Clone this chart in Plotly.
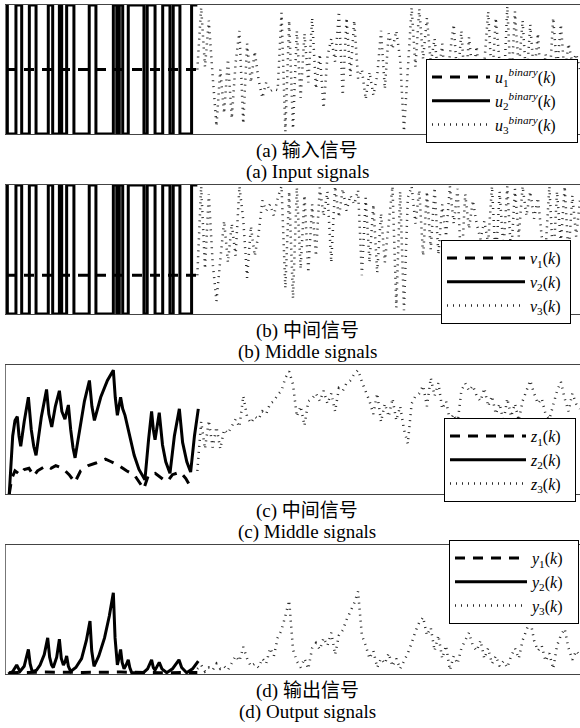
import plotly.graph_objects as go

# ---------------- data ----------------
# sample index of the third (chaotic) signal in every panel
K3 = list(range(100, 301, 2))

# (a) input signals
u1_k = [0, 100]
u1 = [0.5, 0.5]
u2_switch = [0.7, 5.2, 8.2, 12.2, 15.7, 22.1, 24.4, 27.9, 29.1, 31.7, 35.5, 43.5, 47.0,
             56.1, 57.9, 59.2, 61.0, 63.9, 72.1, 73.8, 77.9, 81.9, 85.7, 87.4, 90.9, 97.0]
u2_levels = [1, 0, 1, 0, 1, 0, 1, 0, 1, 0, 1, 0, 1, 0, 1, 0, 1, 0, 1, 0, 1, 0, 1, 0, 1, 0, 1, 1]
u3 = [0.50, 0.98, 0.52, 0.88, 0.45, 0.06, 0.50, 0.16, 0.58, 0.12,
      0.55, 0.80, 0.08, 0.70, 0.40, 0.64, 0.42, 0.28, 0.40, 0.33,
      0.35, 0.34, 0.94, 0.02, 0.88, 0.04, 0.80, 0.28, 0.78, 0.40,
      0.90, 0.35, 0.62, 0.20, 0.60, 0.74, 0.56, 0.95, 0.30, 0.90,
      0.45, 0.88, 0.43, 0.50, 0.27, 0.48, 0.30, 0.45, 0.80, 0.35,
      0.78, 0.66, 0.80, 0.58, 0.02, 0.55, 0.98, 0.52, 0.97, 0.58,
      0.90, 0.55, 0.74, 0.44, 0.70, 0.30, 0.62, 0.85, 0.40, 0.80,
      0.35, 0.75, 0.45, 0.68, 0.30, 0.55, 0.95, 0.40, 0.90, 0.55,
      0.30, 0.99, 0.35, 0.95, 0.50, 0.88, 0.40, 0.85, 0.45, 0.78,
      0.30, 0.62, 0.40, 0.90, 0.50, 0.85, 0.45, 0.70, 0.55, 0.62, 0.50]

# (b) middle signals v
v1_k = [0, 100]
v1 = [0.3, 0.3]
v2_switch = u2_switch
v2_levels = u2_levels
v3 = [0.30, 0.99, 0.35, 0.93, 0.40, 0.10, 0.42, 0.72, 0.40, 0.70,
      0.45, 0.99, 0.73, 0.28, 0.68, 0.45, 0.62, 0.88, 0.80, 0.85,
      0.76, 0.90, 0.99, 0.20, 0.95, 0.12, 0.98, 0.35, 0.92, 0.32,
      0.85, 0.45, 0.98, 0.76, 0.95, 0.40, 0.99, 0.75, 0.97, 0.80,
      0.92, 0.85, 0.96, 0.30, 0.90, 0.40, 0.85, 0.32, 0.78, 0.40,
      0.70, 0.99, 0.05, 0.95, 0.03, 0.90, 0.99, 0.70, 0.96, 0.45,
      0.95, 0.50, 0.98, 0.46, 0.85, 0.60, 0.99, 0.70, 0.97, 0.35,
      0.93, 0.66, 0.88, 0.70, 0.58, 0.72, 0.55, 0.99, 0.40, 0.95,
      0.50, 0.99, 0.45, 0.97, 0.60, 0.99, 0.76, 0.95, 0.74, 0.90,
      0.60, 0.50, 0.99, 0.40, 0.95, 0.55, 0.99, 0.45, 0.92, 0.60, 0.88]

# (c) middle signals z
z1_k = [1.7, 3.0, 4.7, 7.3, 9.5, 12.0, 14.5, 16.5, 21.0, 23.5, 26.0, 29.5, 33.0, 36.0,
        39.0, 43.0, 47.0, 52.0, 55.0, 59.0, 63.0, 67.0, 72.0, 74.5, 78.0, 82.5, 84.5,
        87.0, 91.0, 94.0, 97.0]
z1 = [0.00, 0.12, 0.18, 0.15, 0.19, 0.20, 0.14, 0.18, 0.22, 0.20, 0.22, 0.20, 0.15, 0.09,
      0.18, 0.22, 0.24, 0.27, 0.25, 0.22, 0.18, 0.15, 0.04, 0.15, 0.16, 0.11, 0.10,
      0.15, 0.17, 0.12, 0.04]
z2_k = [1.7, 2.6, 3.5, 4.7, 5.9, 6.8, 7.7, 9.5, 11.7, 13.2, 14.5, 15.7, 18.5, 21.2, 22.4,
        23.9, 25.8, 27.9, 29.2, 30.8, 32.6, 33.8, 35.0, 36.1, 38.5, 41.0, 43.6, 44.9, 46.2,
        49.5, 53.0, 56.1, 57.1, 58.2, 59.9, 61.0, 62.2, 64.5, 67.0, 69.5, 72.6, 74.5, 76.1,
        77.0, 77.9, 80.1, 81.8, 83.5, 85.7, 88.0, 90.6, 92.3, 94.5, 96.5, 98.5, 100.5]
z2 = [0.00, 0.25, 0.45, 0.57, 0.60, 0.45, 0.37, 0.56, 0.75, 0.50, 0.37, 0.30, 0.60, 0.81, 0.62,
      0.52, 0.68, 0.80, 0.64, 0.58, 0.69, 0.50, 0.36, 0.28, 0.50, 0.72, 0.88, 0.68, 0.57,
      0.75, 0.88, 0.96, 0.75, 0.61, 0.75, 0.66, 0.61, 0.45, 0.30, 0.19, 0.11, 0.42, 0.64,
      0.50, 0.42, 0.63, 0.38, 0.25, 0.16, 0.45, 0.66, 0.40, 0.25, 0.17, 0.45, 0.66]
z3 = [0.18, 0.56, 0.35, 0.57, 0.36, 0.52, 0.35, 0.50, 0.47, 0.53,
      0.58, 0.52, 0.76, 0.60, 0.55, 0.60, 0.58, 0.64, 0.62, 0.70,
      0.72, 0.77, 0.80, 0.90, 0.95, 0.85, 0.60, 0.68, 0.53, 0.72,
      0.74, 0.78, 0.72, 0.80, 0.70, 0.78, 0.64, 0.82, 0.80, 0.86,
      0.88, 0.93, 0.96, 0.87, 0.80, 0.72, 0.62, 0.78, 0.56, 0.70,
      0.60, 0.74, 0.57, 0.68, 0.50, 0.39, 0.70, 0.76, 0.78, 0.84,
      0.68, 0.90, 0.76, 0.86, 0.66, 0.72, 0.57, 0.62, 0.55, 0.80,
      0.86, 0.80, 0.84, 0.76, 0.72, 0.82, 0.68, 0.76, 0.62, 0.70,
      0.56, 0.74, 0.60, 0.70, 0.57, 0.72, 0.80, 0.88, 0.78, 0.70,
      0.74, 0.62, 0.58, 0.70, 0.80, 0.87, 0.74, 0.64, 0.78, 0.70, 0.66]

# (d) output signals
y1_k = [1.5, 20, 40, 60, 80, 100]
y1 = [0.010, 0.015, 0.012, 0.015, 0.010, 0.012]
y2_k = [1.2, 3.5, 5.6, 6.4, 7.3, 9.5, 11.7, 12.6, 13.5, 14.3, 16.0, 17.8, 20.0, 21.8, 22.8,
        23.8, 24.7, 26.5, 27.9, 28.9, 30.0, 31.0, 31.7, 32.6, 33.8, 36.5, 39.5, 42.0, 43.9,
        44.8, 46.0, 48.5, 51.5, 54.0, 56.1, 57.0, 58.2, 59.0, 59.9, 60.7, 61.7, 62.8, 63.9,
        64.7, 65.7, 71.8, 74.0, 76.1, 77.0, 77.9, 80.1, 81.5, 84.0, 87.0, 90.4, 91.8, 94.4,
        97.5, 100.5]
y2 = [0.00, 0.02, 0.07, 0.04, 0.02, 0.06, 0.19, 0.08, 0.03, 0.02, 0.03, 0.07, 0.15, 0.28, 0.13,
      0.07, 0.05, 0.13, 0.27, 0.12, 0.07, 0.10, 0.14, 0.06, 0.02, 0.05, 0.12, 0.26, 0.41,
      0.18, 0.06, 0.14, 0.28, 0.45, 0.63, 0.28, 0.07, 0.12, 0.19, 0.09, 0.04, 0.07, 0.11,
      0.05, 0.01, 0.01, 0.04, 0.11, 0.05, 0.03, 0.09, 0.04, 0.01, 0.04, 0.11, 0.05, 0.01,
      0.04, 0.10]
y3 = [0.04, 0.07, 0.02, 0.05, 0.03, 0.08, 0.04, 0.06, 0.03, 0.09,
      0.14, 0.10, 0.21, 0.12, 0.06, 0.08, 0.05, 0.12, 0.08, 0.20,
      0.14, 0.28, 0.34, 0.45, 0.57, 0.19, 0.10, 0.05, 0.12, 0.04,
      0.20, 0.24, 0.19, 0.28, 0.22, 0.32, 0.15, 0.30, 0.34, 0.42,
      0.48, 0.55, 0.64, 0.30, 0.22, 0.12, 0.18, 0.05, 0.12, 0.08,
      0.16, 0.06, 0.12, 0.04, 0.10, 0.16, 0.24, 0.33, 0.40, 0.44,
      0.30, 0.36, 0.18, 0.30, 0.12, 0.22, 0.03, 0.14, 0.08, 0.20,
      0.26, 0.32, 0.22, 0.18, 0.26, 0.12, 0.20, 0.08, 0.14, 0.06,
      0.10, 0.05, 0.14, 0.20, 0.12, 0.26, 0.34, 0.42, 0.26, 0.18,
      0.22, 0.10, 0.16, 0.04, 0.22, 0.30, 0.35, 0.20, 0.11, 0.18, 0.14]

captions = [("(a) 输入信号", "(a) Input signals"),
            ("(b) 中间信号", "(b) Middle signals"),
            ("(c) 中间信号", "(c) Middle signals"),
            ("(d) 输出信号", "(d) Output signals")]

# ---------------- styling / layout ----------------
W, H = 580, 728
SERIF = "Liberation Serif, 'Noto Sans CJK SC', serif"
DASH = dict(color="black", width=3, dash="10px,8px")
SOLID = dict(color="black", width=3)
DOT = dict(color="#2a2a2a", width=2.5, dash="1px,5px")
NB = "\u00a0"

# panel pixel boxes (top, bottom)
boxes = [(5, 134), (185, 314), (365, 494), (545, 674)]
# legend left, top, symbol width, trailing padding
legend_pos = [(426, 59, 58, 4), (441, 240, 78, 1), (444, 418, 76, 2), (449, 540, 72, 2)]


def steps(switch, levels):
    xs = [0] + list(switch) + [100]
    return xs, list(levels)


fig = go.Figure()
u2x, u2y = steps(u2_switch, u2_levels)
v2x, v2y = steps(v2_switch, v2_levels)

series = [
    [(u1_k, u1, "<i>u</i><sub>1</sub><sup><i>binary</i></sup>(<i>k</i>)", DASH, "linear"),
     (u2x, u2y, "<i>u</i><sub>2</sub><sup><i>binary</i></sup>(<i>k</i>)", SOLID, "hv"),
     (K3, u3, "<i>u</i><sub>3</sub><sup><i>binary</i></sup>(<i>k</i>)", DOT, "linear")],
    [(v1_k, v1, "<i>v</i><sub>1</sub>(<i>k</i>)", DASH, "linear"),
     (v2x, v2y, "<i>v</i><sub>2</sub>(<i>k</i>)", SOLID, "hv"),
     (K3, v3, "<i>v</i><sub>3</sub>(<i>k</i>)", DOT, "linear")],
    [(z1_k, z1, "<i>z</i><sub>1</sub>(<i>k</i>)", DASH, "linear"),
     (z2_k, z2, "<i>z</i><sub>2</sub>(<i>k</i>)", SOLID, "linear"),
     (K3, z3, "<i>z</i><sub>3</sub>(<i>k</i>)", DOT, "linear")],
    [(y1_k, y1, "<i>y</i><sub>1</sub>(<i>k</i>)", DASH, "linear"),
     (y2_k, y2, "<i>y</i><sub>2</sub>(<i>k</i>)", SOLID, "linear"),
     (K3, y3, "<i>y</i><sub>3</sub>(<i>k</i>)", DOT, "linear")],
]

layout = dict(width=W, height=H, margin=dict(l=0, r=0, t=0, b=0),
              paper_bgcolor="white", plot_bgcolor="white", showlegend=True,
              annotations=[])

for p, (top, bot) in enumerate(boxes):
    sfx = "" if p == 0 else str(p + 1)
    leg = "legend" if p == 0 else "legend" + str(p + 1)
    lx, ly, iw, pad = legend_pos[p]
    for (x, y, name, line, shape) in series[p]:
        fig.add_trace(go.Scatter(x=x, y=y, mode="lines", name=name + NB * pad,
                                 line=dict(shape=shape, **line),
                                 xaxis="x" + sfx, yaxis="y" + sfx, legend=leg, hoverinfo="skip"))
    layout["xaxis" + sfx] = dict(domain=[6 / W, 1], range=[0, 300], showline=True, mirror=True,
                                 linecolor="#444", linewidth=1, showgrid=False, zeroline=False,
                                 showticklabels=False, ticks="", anchor="y" + sfx)
    layout["yaxis" + sfx] = dict(domain=[1 - bot / H, 1 - top / H], range=[0, 1], showline=True,
                                 mirror=False, linecolor="#777", linewidth=1, showgrid=False,
                                 zeroline=False, showticklabels=False, ticks="", anchor="x" + sfx)
    layout[leg] = dict(x=lx / W, y=1 - ly / H, xanchor="left", yanchor="top", bgcolor="white",
                       bordercolor="black", borderwidth=1, itemwidth=iw, tracegroupgap=0,
                       font=dict(family=SERIF, size=16, color="black"))
    c1, c2 = captions[p]
    for txt, dy in ((c1, 17), (c2, 38)):
        layout["annotations"].append(dict(text=txt, x=307 / W, y=1 - (bot + dy) / H, xref="paper",
                                          yref="paper", xanchor="center", yanchor="middle",
                                          showarrow=False,
                                          font=dict(family=SERIF, size=19, color="black")))

fig.update_layout(**layout)
fig.write_html("out.html")
